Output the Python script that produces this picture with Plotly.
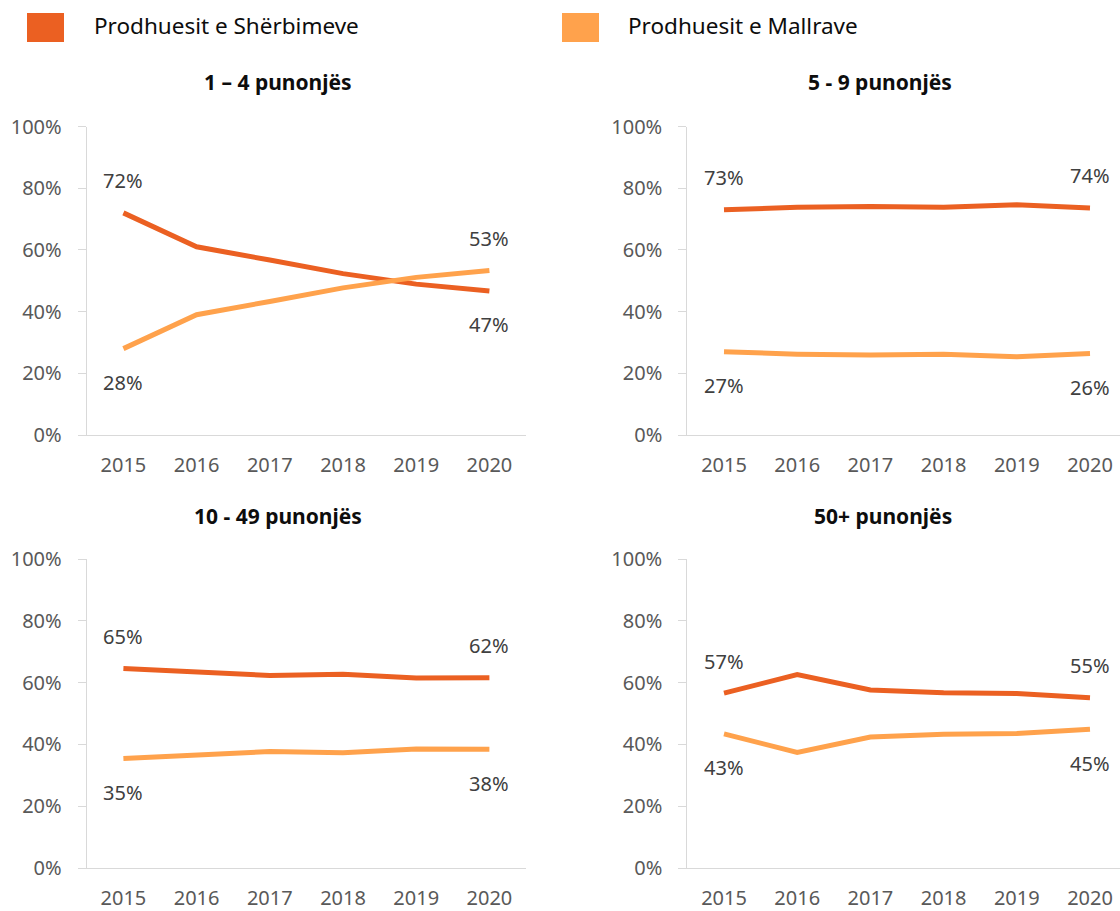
import plotly.graph_objects as go

# Years on the horizontal axis
years = ["2015", "2016", "2017", "2018", "2019", "2020"]

# Share (%) of service producers and goods producers, by firm size
sherbime_1_4 = [72.0, 61.0, 56.7, 52.3, 48.9, 46.7]
mallra_1_4 = [28.0, 39.0, 43.3, 47.7, 51.1, 53.3]

sherbime_5_9 = [73.0, 73.8, 74.1, 73.8, 74.6, 73.6]
mallra_5_9 = [27.0, 26.2, 25.9, 26.2, 25.4, 26.4]

sherbime_10_49 = [64.6, 63.4, 62.3, 62.7, 61.5, 61.6]
mallra_10_49 = [35.4, 36.6, 37.7, 37.3, 38.5, 38.4]

sherbime_50 = [56.6, 62.6, 57.6, 56.7, 56.5, 55.1]
mallra_50 = [43.4, 37.4, 42.4, 43.3, 43.5, 44.9]

panel_titles = ["1 – 4 punonjës", "5 - 9 punonjës", "10 - 49 punonjës", "50+ punonjës"]
series_names = ["Prodhuesit e Shërbimeve", "Prodhuesit e Mallrave"]
y_ticks = [0, 20, 40, 60, 80, 100]
y_tick_text = [f"{v}%" for v in y_ticks]

W, H = 1120, 911
COL_SHERBIME = "#EB6022"
COL_MALLRA = "#FFA24C"
FONT = "Noto Sans"
AXIS_GREY = "#D9D9D9"

panels = [
    (sherbime_1_4, mallra_1_4),
    (sherbime_5_9, mallra_5_9),
    (sherbime_10_49, mallra_10_49),
    (sherbime_50, mallra_50),
]

# Pixel geometry of each plotting area (left edge, right edge, top, bottom)
step = 73.2
left_x0 = 86.8
right_x0 = 687.4
top_y = (126.5, 435.0)
bot_y = (559.0, 868.0)
boxes = [
    (left_x0, left_x0 + 6 * step, *top_y),
    (right_x0, W, *top_y),
    (left_x0, left_x0 + 6 * step, *bot_y),
    (right_x0, W, *bot_y),
]
title_pos = [(278, 82), (880, 82), (278, 516), (883, 516)]

fig = go.Figure()
layout_axes = {}
annotations = []

for i, ((s_vals, m_vals), (x0, x1, yt, yb)) in enumerate(zip(panels, boxes)):
    n = i + 1
    xa = "x" if n == 1 else f"x{n}"
    ya = "y" if n == 1 else f"y{n}"
    for vals, col in ((s_vals, COL_SHERBIME), (m_vals, COL_MALLRA)):
        fig.add_trace(go.Scatter(
            x=years, y=vals, mode="lines",
            line=dict(color=col, width=5, shape="linear"),
            xaxis=xa, yaxis=ya, showlegend=False, hoverinfo="skip",
        ))
    xr_end = -0.5 + (x1 - x0) / step
    layout_axes[f"xaxis{'' if n == 1 else n}"] = dict(
        domain=[x0 / W, x1 / W], anchor=ya, type="category",
        categoryorder="array", categoryarray=years,
        range=[-0.5, xr_end], autorange=False,
        showline=True, linecolor=AXIS_GREY, linewidth=1.3,
        showgrid=False, zeroline=False, ticks="",
        tickfont=dict(family=FONT, size=20, color="#595959"),
        ticklabelstandoff=12, fixedrange=True,
    )
    layout_axes[f"yaxis{'' if n == 1 else n}"] = dict(
        domain=[1 - yb / H, 1 - yt / H], anchor=xa,
        range=[0, 100], autorange=False,
        tickmode="array", tickvals=y_ticks, ticktext=y_tick_text,
        showline=True, linecolor=AXIS_GREY,
        linewidth=1.3, ticks="outside", ticklen=8, tickcolor=AXIS_GREY,
        tickwidth=1.3, showgrid=False, zeroline=False,
        tickfont=dict(family=FONT, size=20, color="#595959"),
        ticklabelstandoff=12, fixedrange=True,
    )
    # Value labels on the first and last year (x given as category index)
    for idx in (0, len(years) - 1):
        for vals, other in ((s_vals, m_vals), (m_vals, s_vals)):
            above = vals[idx] >= other[idx]
            annotations.append(dict(
                x=idx, y=vals[idx], xref=xa, yref=ya,
                text=f"{vals[idx]:.0f}%", showarrow=False,
                yshift=32 if above else -34, xanchor="center", yanchor="middle",
                font=dict(family=FONT, size=20, color="#404040"),
            ))
    tx, ty = title_pos[i]
    annotations.append(dict(
        x=tx / W, y=1 - ty / H, xref="paper", yref="paper",
        text=f"<b>{panel_titles[i]}</b>", showarrow=False,
        xanchor="center", yanchor="middle",
        font=dict(family=FONT, size=21, color="#0D0D0D"),
    ))

# Legend: colour swatches with series names
shapes = []
legend_items = [(27, 92, COL_SHERBIME), (562, 626, COL_MALLRA)]
for (sx, tx, col), name in zip(legend_items, series_names):
    shapes.append(dict(
        type="rect", xref="paper", yref="paper",
        x0=sx / W, x1=(sx + 37) / W, y0=1 - 42 / H, y1=1 - 13 / H,
        fillcolor=col, line=dict(width=0),
    ))
    annotations.append(dict(
        x=tx / W, y=1 - 25 / H, xref="paper", yref="paper",
        text=name, showarrow=False, xanchor="left", yanchor="middle",
        font=dict(family=FONT, size=22.5, color="#0D0D0D"),
    ))

fig.update_layout(
    width=W, height=H,
    margin=dict(l=0, r=0, t=0, b=0, autoexpand=False),
    paper_bgcolor="white", plot_bgcolor="white",
    annotations=annotations, shapes=shapes,
    showlegend=False,
    **layout_axes,
)

fig.write_html("out.html", config={"displayModeBar": False})
